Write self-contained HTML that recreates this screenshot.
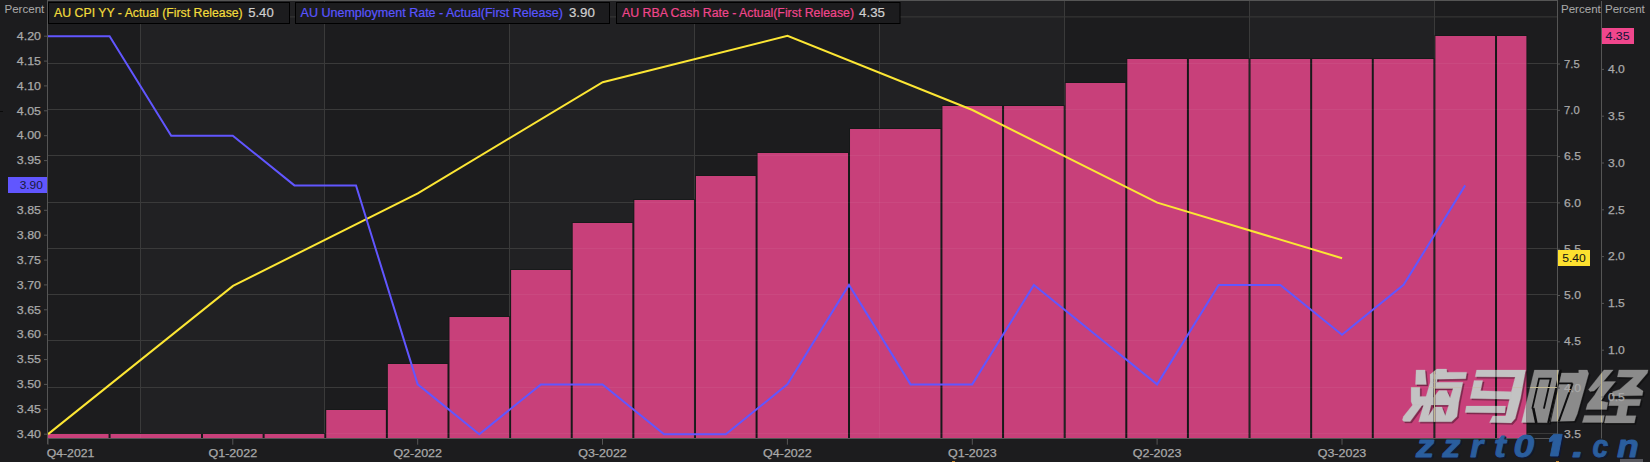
<!DOCTYPE html>
<html><head><meta charset="utf-8"><style>
html,body{margin:0;padding:0;background:#1c1c1e;width:1650px;height:462px;overflow:hidden;}
svg text{font-family:"Liberation Sans", sans-serif;}
</style></head><body>
<svg width="1650" height="462" viewBox="0 0 1650 462" style="position:absolute;left:0;top:0"><rect x="0" y="0" width="1650" height="462" fill="#1c1c1e"/><rect x="141" y="0.5" width="183" height="438.0" fill="#212123"/><rect x="510" y="0.5" width="184" height="438.0" fill="#212123"/><rect x="880" y="0.5" width="184" height="438.0" fill="#212123"/><rect x="1250" y="0.5" width="184" height="438.0" fill="#212123"/><line x1="140.5" y1="0.5" x2="140.5" y2="438.5" stroke="#3a3a3a" stroke-width="1"/><line x1="324.5" y1="0.5" x2="324.5" y2="438.5" stroke="#3a3a3a" stroke-width="1"/><line x1="509.5" y1="0.5" x2="509.5" y2="438.5" stroke="#3a3a3a" stroke-width="1"/><line x1="694.5" y1="0.5" x2="694.5" y2="438.5" stroke="#3a3a3a" stroke-width="1"/><line x1="879.5" y1="0.5" x2="879.5" y2="438.5" stroke="#3a3a3a" stroke-width="1"/><line x1="1064.5" y1="0.5" x2="1064.5" y2="438.5" stroke="#3a3a3a" stroke-width="1"/><line x1="1249.5" y1="0.5" x2="1249.5" y2="438.5" stroke="#3a3a3a" stroke-width="1"/><line x1="1434.5" y1="0.5" x2="1434.5" y2="438.5" stroke="#3a3a3a" stroke-width="1"/><line x1="47.5" y1="16.9" x2="1557.5" y2="16.9" stroke="#3a3a3a" stroke-width="1"/><line x1="47.5" y1="63.5" x2="1557.5" y2="63.5" stroke="#3a3a3a" stroke-width="1"/><line x1="47.5" y1="109.5" x2="1557.5" y2="109.5" stroke="#3a3a3a" stroke-width="1"/><line x1="47.5" y1="155.5" x2="1557.5" y2="155.5" stroke="#3a3a3a" stroke-width="1"/><line x1="47.5" y1="202.5" x2="1557.5" y2="202.5" stroke="#3a3a3a" stroke-width="1"/><line x1="47.5" y1="248.5" x2="1557.5" y2="248.5" stroke="#3a3a3a" stroke-width="1"/><line x1="47.5" y1="294.5" x2="1557.5" y2="294.5" stroke="#3a3a3a" stroke-width="1"/><line x1="47.5" y1="340.5" x2="1557.5" y2="340.5" stroke="#3a3a3a" stroke-width="1"/><line x1="47.5" y1="387.5" x2="1557.5" y2="387.5" stroke="#3a3a3a" stroke-width="1"/><line x1="47.5" y1="433.5" x2="1557.5" y2="433.5" stroke="#3a3a3a" stroke-width="1"/><rect x="47" y="433" width="62.56999999999999" height="5" fill="#141817" fill-opacity="0.7"/><rect x="109.57" y="433" width="92.43" height="5" fill="#141817" fill-opacity="0.7"/><rect x="202.0" y="433" width="61.620000000000005" height="5" fill="#141817" fill-opacity="0.7"/><rect x="263.62" y="433" width="61.620000000000005" height="5" fill="#141817" fill-opacity="0.7"/><rect x="325.24" y="409" width="61.620000000000005" height="29" fill="#141817" fill-opacity="0.7"/><rect x="386.86" y="363" width="61.620000000000005" height="75" fill="#141817" fill-opacity="0.7"/><rect x="448.48" y="316" width="61.620000000000005" height="122" fill="#141817" fill-opacity="0.7"/><rect x="510.1" y="269" width="61.620000000000005" height="169" fill="#141817" fill-opacity="0.7"/><rect x="571.72" y="222" width="61.620000000000005" height="216" fill="#141817" fill-opacity="0.7"/><rect x="633.34" y="199" width="61.620000000000005" height="239" fill="#141817" fill-opacity="0.7"/><rect x="694.96" y="175" width="61.620000000000005" height="263" fill="#141817" fill-opacity="0.7"/><rect x="756.58" y="152" width="92.42999999999995" height="286" fill="#141817" fill-opacity="0.7"/><rect x="849.01" y="128" width="92.43000000000006" height="310" fill="#141817" fill-opacity="0.7"/><rect x="941.44" y="105" width="61.61999999999989" height="333" fill="#141817" fill-opacity="0.7"/><rect x="1003.06" y="105" width="61.62000000000012" height="333" fill="#141817" fill-opacity="0.7"/><rect x="1064.68" y="82" width="61.61999999999989" height="356" fill="#141817" fill-opacity="0.7"/><rect x="1126.3" y="58" width="61.62000000000012" height="380" fill="#141817" fill-opacity="0.7"/><rect x="1187.92" y="58" width="61.61999999999989" height="380" fill="#141817" fill-opacity="0.7"/><rect x="1249.54" y="58" width="61.62000000000012" height="380" fill="#141817" fill-opacity="0.7"/><rect x="1311.16" y="58" width="61.61999999999989" height="380" fill="#141817" fill-opacity="0.7"/><rect x="1372.78" y="58" width="61.62000000000012" height="380" fill="#141817" fill-opacity="0.7"/><rect x="1434.4" y="35" width="61.61999999999989" height="403" fill="#141817" fill-opacity="0.7"/><rect x="1496.02" y="35" width="31.38000000000011" height="403" fill="#141817" fill-opacity="0.7"/><rect x="48" y="434" width="60.56999999999999" height="4" fill="#c8407a"/><rect x="110.57" y="434" width="90.43" height="4" fill="#c8407a"/><rect x="203.0" y="434" width="59.620000000000005" height="4" fill="#c8407a"/><rect x="264.62" y="434" width="59.620000000000005" height="4" fill="#c8407a"/><rect x="326.24" y="410" width="59.620000000000005" height="28" fill="#c8407a"/><rect x="387.86" y="364" width="59.620000000000005" height="74" fill="#c8407a"/><rect x="449.48" y="317" width="59.620000000000005" height="121" fill="#c8407a"/><rect x="511.1" y="270" width="59.620000000000005" height="168" fill="#c8407a"/><rect x="572.72" y="223" width="59.620000000000005" height="215" fill="#c8407a"/><rect x="634.34" y="200" width="59.620000000000005" height="238" fill="#c8407a"/><rect x="695.96" y="176" width="59.620000000000005" height="262" fill="#c8407a"/><rect x="757.58" y="153" width="90.42999999999995" height="285" fill="#c8407a"/><rect x="850.01" y="129" width="90.43000000000006" height="309" fill="#c8407a"/><rect x="942.44" y="106" width="59.61999999999989" height="332" fill="#c8407a"/><rect x="1004.06" y="106" width="59.62000000000012" height="332" fill="#c8407a"/><rect x="1065.68" y="83" width="59.61999999999989" height="355" fill="#c8407a"/><rect x="1127.3" y="59" width="59.62000000000012" height="379" fill="#c8407a"/><rect x="1188.92" y="59" width="59.61999999999989" height="379" fill="#c8407a"/><rect x="1250.54" y="59" width="59.62000000000012" height="379" fill="#c8407a"/><rect x="1312.16" y="59" width="59.61999999999989" height="379" fill="#c8407a"/><rect x="1373.78" y="59" width="59.62000000000012" height="379" fill="#c8407a"/><rect x="1435.4" y="36" width="59.61999999999989" height="402" fill="#c8407a"/><rect x="1497.02" y="36" width="29.38000000000011" height="402" fill="#c8407a"/><defs><clipPath id="allbars"><rect x="48" y="434" width="60.56999999999999" height="4"/><rect x="110.57" y="434" width="90.43" height="4"/><rect x="203.0" y="434" width="59.620000000000005" height="4"/><rect x="264.62" y="434" width="59.620000000000005" height="4"/><rect x="326.24" y="410" width="59.620000000000005" height="28"/><rect x="387.86" y="364" width="59.620000000000005" height="74"/><rect x="449.48" y="317" width="59.620000000000005" height="121"/><rect x="511.1" y="270" width="59.620000000000005" height="168"/><rect x="572.72" y="223" width="59.620000000000005" height="215"/><rect x="634.34" y="200" width="59.620000000000005" height="238"/><rect x="695.96" y="176" width="59.620000000000005" height="262"/><rect x="757.58" y="153" width="90.42999999999995" height="285"/><rect x="850.01" y="129" width="90.43000000000006" height="309"/><rect x="942.44" y="106" width="59.61999999999989" height="332"/><rect x="1004.06" y="106" width="59.62000000000012" height="332"/><rect x="1065.68" y="83" width="59.61999999999989" height="355"/><rect x="1127.3" y="59" width="59.62000000000012" height="379"/><rect x="1188.92" y="59" width="59.61999999999989" height="379"/><rect x="1250.54" y="59" width="59.62000000000012" height="379"/><rect x="1312.16" y="59" width="59.61999999999989" height="379"/><rect x="1373.78" y="59" width="59.62000000000012" height="379"/><rect x="1435.4" y="36" width="59.61999999999989" height="402"/><rect x="1497.02" y="36" width="29.38000000000011" height="402"/></clipPath></defs><g stroke="#ffffff" stroke-opacity="0.05" stroke-width="1" clip-path="url(#allbars)"><line x1="47.5" y1="16.9" x2="1527" y2="16.9"/><line x1="47.5" y1="63.5" x2="1527" y2="63.5"/><line x1="47.5" y1="109.5" x2="1527" y2="109.5"/><line x1="47.5" y1="155.5" x2="1527" y2="155.5"/><line x1="47.5" y1="202.5" x2="1527" y2="202.5"/><line x1="47.5" y1="248.5" x2="1527" y2="248.5"/><line x1="47.5" y1="294.5" x2="1527" y2="294.5"/><line x1="47.5" y1="340.5" x2="1527" y2="340.5"/><line x1="47.5" y1="387.5" x2="1527" y2="387.5"/><line x1="47.5" y1="433.5" x2="1527" y2="433.5"/><line x1="140.5" y1="0.5" x2="140.5" y2="438.5"/><line x1="324.5" y1="0.5" x2="324.5" y2="438.5"/><line x1="509.5" y1="0.5" x2="509.5" y2="438.5"/><line x1="694.5" y1="0.5" x2="694.5" y2="438.5"/><line x1="879.5" y1="0.5" x2="879.5" y2="438.5"/><line x1="1064.5" y1="0.5" x2="1064.5" y2="438.5"/><line x1="1249.5" y1="0.5" x2="1249.5" y2="438.5"/><line x1="1434.5" y1="0.5" x2="1434.5" y2="438.5"/></g><polyline points="48.1,434.1 233.0,285.9 417.8,193.3 602.7,82.2 787.5,35.9 972.4,110.0 1157.3,202.6 1342.1,258.2" fill="none" stroke="#fce634" stroke-width="2" stroke-linejoin="miter"/><polyline points="48.0,36.2 109.6,36.2 171.2,135.7 232.8,135.7 294.4,185.4 356.0,185.4 417.7,384.4 479.3,434.2 540.9,384.4 602.5,384.4 664.1,434.2 725.8,434.2 787.4,384.4 849.0,284.9 910.6,384.4 972.2,384.4 1033.9,284.9 1095.5,334.7 1157.1,384.4 1218.7,284.9 1280.3,284.9 1342.0,334.7 1403.6,284.9 1465.2,185.4" fill="none" stroke="#6156ff" stroke-width="2" stroke-linejoin="miter"/><defs><clipPath id="wmclip"><path d="M1416.1 370.0 L1425.0 370.0 L1426.4 384.5 L1415.5 384.4 Z"/><path d="M1411.1 387.3 L1419.9 387.3 L1419.9 396.4 L1428.5 396.4 L1427.5 405.3 L1412.6 405.3 L1411.1 401.4 Z"/><path d="M1412.6 405.0 L1422.3 405.0 L1410.2 421.6 L1403.8 421.6 L1402.4 419.9 L1403.4 416.5 Z"/><path d="M1430.0 374.5 L1436.9 369.1 L1446.6 369.1 L1447.0 372.2 L1466.7 372.2 L1465.7 378.8 L1436.5 379.2 L1434.0 379.2 Z"/><path d="M1430.0 374.5 L1437.5 374.5 L1436.9 382.3 L1430.2 382.9 Z"/><path d="M1430.2 382.3 L1462.9 382.3 L1458.8 402.3 L1457.0 416.5 L1451.5 421.8 L1418.7 421.8 ZM1433.7 388.5 L1453.1 388.5 L1450.1 398.0 L1446.6 390.6 L1438.9 390.6 L1433.2 398.0 ZM1431.1 404.9 L1448.8 404.9 L1445.3 415.7 L1441.9 407.1 L1434.5 407.1 L1428.5 415.7 Z" fill-rule="evenodd"/><path d="M1476.6 370.1 L1525.6 370.1 L1520.6 398.0 L1515.2 418.6 L1511.3 422.9 L1489.5 422.5 L1492.7 416.1 L1505.6 416.1 L1511.3 391.8 L1515.2 377.1 L1475.2 376.8 Z"/><path d="M1474.1 380.4 L1482.7 380.4 L1480.6 390.7 L1511.5 391.8 L1510.6 399.3 L1470.2 398.6 Z"/><path d="M1466.3 406.1 L1505.6 406.1 L1504.9 412.9 L1465.2 412.5 Z"/><path d="M1534.4 370.1 L1560.5 370.1 L1549.5 422.7 L1521.6 422.5 Z"/><path d="M1561.5 372.9 L1578.7 372.9 L1578.7 370.1 L1587.3 370.1 L1588.7 373.6 L1577.3 414.0 L1574.3 420.9 L1551.0 421.5 Z"/><path d="M1603.9 369.9 L1613.2 369.9 L1600.0 385.5 L1594.0 391.0 L1590.0 391.5 L1588.5 389.5 Z"/><path d="M1602.4 381.6 L1615.6 381.6 L1604.4 395.0 L1601.0 401.0 L1608.0 402.5 L1606.6 409.6 L1585.9 409.6 L1587.5 404.0 L1594.7 395.0 Z"/><path d="M1584.4 415.4 L1604.4 415.4 L1603.0 422.5 L1582.3 422.5 Z"/><path d="M1618.9 369.9 L1648.1 369.9 L1647.5 373.0 L1636.1 386.3 L1643.1 391.0 L1642.3 395.6 L1612.0 396.0 L1612.7 391.7 L1619.7 389.4 L1633.7 377.3 L1617.4 376.9 Z"/><path d="M1610.1 399.3 L1640.9 399.3 L1639.4 405.7 L1608.7 405.7 Z"/><path d="M1618.7 405.0 L1628.0 405.0 L1626.0 416.0 L1616.5 416.0 Z"/><path d="M1605.9 415.7 L1635.9 415.7 L1634.4 422.9 L1604.4 422.9 Z"/></clipPath><clipPath id="barsclip"><rect x="1373.78" y="59" width="59.62000000000012" height="379"/><rect x="1435.4" y="36" width="59.61999999999989" height="402"/><rect x="1497.02" y="36" width="29.38000000000011" height="402"/></clipPath><mask id="nobars"><rect x="0" y="0" width="1650" height="462" fill="#fff"/><rect x="1373.78" y="59" width="59.62000000000012" height="379" fill="#000"/><rect x="1435.4" y="36" width="59.61999999999989" height="402" fill="#000"/><rect x="1497.02" y="36" width="29.38000000000011" height="402" fill="#000"/></mask></defs><g transform="translate(1.5,1.5)" stroke-width="0.3" fill="#000" stroke="#000" fill-opacity="0.35" stroke-opacity="0.35"><path d="M1416.1 370.0 L1425.0 370.0 L1426.4 384.5 L1415.5 384.4 Z"/><path d="M1411.1 387.3 L1419.9 387.3 L1419.9 396.4 L1428.5 396.4 L1427.5 405.3 L1412.6 405.3 L1411.1 401.4 Z"/><path d="M1412.6 405.0 L1422.3 405.0 L1410.2 421.6 L1403.8 421.6 L1402.4 419.9 L1403.4 416.5 Z"/><path d="M1430.0 374.5 L1436.9 369.1 L1446.6 369.1 L1447.0 372.2 L1466.7 372.2 L1465.7 378.8 L1436.5 379.2 L1434.0 379.2 Z"/><path d="M1430.0 374.5 L1437.5 374.5 L1436.9 382.3 L1430.2 382.9 Z"/><path d="M1430.2 382.3 L1462.9 382.3 L1458.8 402.3 L1457.0 416.5 L1451.5 421.8 L1418.7 421.8 ZM1433.7 388.5 L1453.1 388.5 L1450.1 398.0 L1446.6 390.6 L1438.9 390.6 L1433.2 398.0 ZM1431.1 404.9 L1448.8 404.9 L1445.3 415.7 L1441.9 407.1 L1434.5 407.1 L1428.5 415.7 Z" fill-rule="evenodd"/><path d="M1476.6 370.1 L1525.6 370.1 L1520.6 398.0 L1515.2 418.6 L1511.3 422.9 L1489.5 422.5 L1492.7 416.1 L1505.6 416.1 L1511.3 391.8 L1515.2 377.1 L1475.2 376.8 Z"/><path d="M1474.1 380.4 L1482.7 380.4 L1480.6 390.7 L1511.5 391.8 L1510.6 399.3 L1470.2 398.6 Z"/><path d="M1466.3 406.1 L1505.6 406.1 L1504.9 412.9 L1465.2 412.5 Z"/><path d="M1534.4 370.1 L1560.5 370.1 L1549.5 422.7 L1521.6 422.5 Z"/><path d="M1561.5 372.9 L1578.7 372.9 L1578.7 370.1 L1587.3 370.1 L1588.7 373.6 L1577.3 414.0 L1574.3 420.9 L1551.0 421.5 Z"/><path d="M1603.9 369.9 L1613.2 369.9 L1600.0 385.5 L1594.0 391.0 L1590.0 391.5 L1588.5 389.5 Z"/><path d="M1602.4 381.6 L1615.6 381.6 L1604.4 395.0 L1601.0 401.0 L1608.0 402.5 L1606.6 409.6 L1585.9 409.6 L1587.5 404.0 L1594.7 395.0 Z"/><path d="M1584.4 415.4 L1604.4 415.4 L1603.0 422.5 L1582.3 422.5 Z"/><path d="M1618.9 369.9 L1648.1 369.9 L1647.5 373.0 L1636.1 386.3 L1643.1 391.0 L1642.3 395.6 L1612.0 396.0 L1612.7 391.7 L1619.7 389.4 L1633.7 377.3 L1617.4 376.9 Z"/><path d="M1610.1 399.3 L1640.9 399.3 L1639.4 405.7 L1608.7 405.7 Z"/><path d="M1618.7 405.0 L1628.0 405.0 L1626.0 416.0 L1616.5 416.0 Z"/><path d="M1605.9 415.7 L1635.9 415.7 L1634.4 422.9 L1604.4 422.9 Z"/></g><g stroke-width="0.3" fill="#8b8b8b" stroke="#8b8b8b" mask="url(#nobars)"><path d="M1416.1 370.0 L1425.0 370.0 L1426.4 384.5 L1415.5 384.4 Z"/><path d="M1411.1 387.3 L1419.9 387.3 L1419.9 396.4 L1428.5 396.4 L1427.5 405.3 L1412.6 405.3 L1411.1 401.4 Z"/><path d="M1412.6 405.0 L1422.3 405.0 L1410.2 421.6 L1403.8 421.6 L1402.4 419.9 L1403.4 416.5 Z"/><path d="M1430.0 374.5 L1436.9 369.1 L1446.6 369.1 L1447.0 372.2 L1466.7 372.2 L1465.7 378.8 L1436.5 379.2 L1434.0 379.2 Z"/><path d="M1430.0 374.5 L1437.5 374.5 L1436.9 382.3 L1430.2 382.9 Z"/><path d="M1430.2 382.3 L1462.9 382.3 L1458.8 402.3 L1457.0 416.5 L1451.5 421.8 L1418.7 421.8 ZM1433.7 388.5 L1453.1 388.5 L1450.1 398.0 L1446.6 390.6 L1438.9 390.6 L1433.2 398.0 ZM1431.1 404.9 L1448.8 404.9 L1445.3 415.7 L1441.9 407.1 L1434.5 407.1 L1428.5 415.7 Z" fill-rule="evenodd"/><path d="M1476.6 370.1 L1525.6 370.1 L1520.6 398.0 L1515.2 418.6 L1511.3 422.9 L1489.5 422.5 L1492.7 416.1 L1505.6 416.1 L1511.3 391.8 L1515.2 377.1 L1475.2 376.8 Z"/><path d="M1474.1 380.4 L1482.7 380.4 L1480.6 390.7 L1511.5 391.8 L1510.6 399.3 L1470.2 398.6 Z"/><path d="M1466.3 406.1 L1505.6 406.1 L1504.9 412.9 L1465.2 412.5 Z"/><path d="M1534.4 370.1 L1560.5 370.1 L1549.5 422.7 L1521.6 422.5 Z"/><path d="M1561.5 372.9 L1578.7 372.9 L1578.7 370.1 L1587.3 370.1 L1588.7 373.6 L1577.3 414.0 L1574.3 420.9 L1551.0 421.5 Z"/><path d="M1603.9 369.9 L1613.2 369.9 L1600.0 385.5 L1594.0 391.0 L1590.0 391.5 L1588.5 389.5 Z"/><path d="M1602.4 381.6 L1615.6 381.6 L1604.4 395.0 L1601.0 401.0 L1608.0 402.5 L1606.6 409.6 L1585.9 409.6 L1587.5 404.0 L1594.7 395.0 Z"/><path d="M1584.4 415.4 L1604.4 415.4 L1603.0 422.5 L1582.3 422.5 Z"/><path d="M1618.9 369.9 L1648.1 369.9 L1647.5 373.0 L1636.1 386.3 L1643.1 391.0 L1642.3 395.6 L1612.0 396.0 L1612.7 391.7 L1619.7 389.4 L1633.7 377.3 L1617.4 376.9 Z"/><path d="M1610.1 399.3 L1640.9 399.3 L1639.4 405.7 L1608.7 405.7 Z"/><path d="M1618.7 405.0 L1628.0 405.0 L1626.0 416.0 L1616.5 416.0 Z"/><path d="M1605.9 415.7 L1635.9 415.7 L1634.4 422.9 L1604.4 422.9 Z"/></g><g stroke-width="0.3" fill="#c3c3c3" stroke="#c3c3c3" clip-path="url(#barsclip)"><path d="M1416.1 370.0 L1425.0 370.0 L1426.4 384.5 L1415.5 384.4 Z"/><path d="M1411.1 387.3 L1419.9 387.3 L1419.9 396.4 L1428.5 396.4 L1427.5 405.3 L1412.6 405.3 L1411.1 401.4 Z"/><path d="M1412.6 405.0 L1422.3 405.0 L1410.2 421.6 L1403.8 421.6 L1402.4 419.9 L1403.4 416.5 Z"/><path d="M1430.0 374.5 L1436.9 369.1 L1446.6 369.1 L1447.0 372.2 L1466.7 372.2 L1465.7 378.8 L1436.5 379.2 L1434.0 379.2 Z"/><path d="M1430.0 374.5 L1437.5 374.5 L1436.9 382.3 L1430.2 382.9 Z"/><path d="M1430.2 382.3 L1462.9 382.3 L1458.8 402.3 L1457.0 416.5 L1451.5 421.8 L1418.7 421.8 ZM1433.7 388.5 L1453.1 388.5 L1450.1 398.0 L1446.6 390.6 L1438.9 390.6 L1433.2 398.0 ZM1431.1 404.9 L1448.8 404.9 L1445.3 415.7 L1441.9 407.1 L1434.5 407.1 L1428.5 415.7 Z" fill-rule="evenodd"/><path d="M1476.6 370.1 L1525.6 370.1 L1520.6 398.0 L1515.2 418.6 L1511.3 422.9 L1489.5 422.5 L1492.7 416.1 L1505.6 416.1 L1511.3 391.8 L1515.2 377.1 L1475.2 376.8 Z"/><path d="M1474.1 380.4 L1482.7 380.4 L1480.6 390.7 L1511.5 391.8 L1510.6 399.3 L1470.2 398.6 Z"/><path d="M1466.3 406.1 L1505.6 406.1 L1504.9 412.9 L1465.2 412.5 Z"/><path d="M1534.4 370.1 L1560.5 370.1 L1549.5 422.7 L1521.6 422.5 Z"/><path d="M1561.5 372.9 L1578.7 372.9 L1578.7 370.1 L1587.3 370.1 L1588.7 373.6 L1577.3 414.0 L1574.3 420.9 L1551.0 421.5 Z"/><path d="M1603.9 369.9 L1613.2 369.9 L1600.0 385.5 L1594.0 391.0 L1590.0 391.5 L1588.5 389.5 Z"/><path d="M1602.4 381.6 L1615.6 381.6 L1604.4 395.0 L1601.0 401.0 L1608.0 402.5 L1606.6 409.6 L1585.9 409.6 L1587.5 404.0 L1594.7 395.0 Z"/><path d="M1584.4 415.4 L1604.4 415.4 L1603.0 422.5 L1582.3 422.5 Z"/><path d="M1618.9 369.9 L1648.1 369.9 L1647.5 373.0 L1636.1 386.3 L1643.1 391.0 L1642.3 395.6 L1612.0 396.0 L1612.7 391.7 L1619.7 389.4 L1633.7 377.3 L1617.4 376.9 Z"/><path d="M1610.1 399.3 L1640.9 399.3 L1639.4 405.7 L1608.7 405.7 Z"/><path d="M1618.7 405.0 L1628.0 405.0 L1626.0 416.0 L1616.5 416.0 Z"/><path d="M1605.9 415.7 L1635.9 415.7 L1634.4 422.9 L1604.4 422.9 Z"/></g><g fill="none" stroke="#0d0d0e" stroke-linejoin="miter"><polyline stroke-width="2.3" points="1560.6,369.5 1548.3,423.0"/><polyline stroke-width="1.8" points="1532.3,408.6 1539.1,378.6 1550.7,378.6 1543.9,408.6"/><polyline stroke-width="2.6" points="1533.2,408.0 1536.3,423.0"/><polyline stroke-width="1.8" points="1559.0,383.4 1572.5,383.4"/><polyline stroke-width="2.0" points="1572.5,383.4 1558.8,421.5"/></g><line x1="47.5" y1="0" x2="47.5" y2="444" stroke="#555555" stroke-width="1"/><line x1="47.5" y1="438.5" x2="1557.5" y2="438.5" stroke="#555555" stroke-width="1"/><line x1="47.5" y1="0.5" x2="1557.5" y2="0.5" stroke="#555555" stroke-width="1"/><line x1="1557.5" y1="0" x2="1557.5" y2="438.5" stroke="#555555" stroke-width="1"/><line x1="1601.5" y1="1" x2="1601.5" y2="438.5" stroke="#555555" stroke-width="1"/><g clip-path="url(#wmclip)" stroke="#c2b992" stroke-width="1"><line x1="1434.5" y1="360" x2="1434.5" y2="430"/><line x1="1557.5" y1="360" x2="1557.5" y2="430"/><line x1="1601.5" y1="360" x2="1601.5" y2="430"/><line x1="1526" y1="387.5" x2="1557.5" y2="387.5"/><line x1="1390" y1="387.5" x2="1526" y2="387.5" stroke-opacity="0.35"/></g><rect x="952" y="461" width="3" height="1" fill="#c8862c"/><rect x="1556" y="461" width="3" height="1" fill="#c8862c"/><line x1="44" y1="36.2" x2="47.5" y2="36.2" stroke="#555555" stroke-width="1"/><text x="16.8" y="39.9" font-size="11.2" fill="#a9a9a9" stroke="#a9a9a9" stroke-width="0.25" textLength="24.2" lengthAdjust="spacingAndGlyphs">4.20</text><line x1="44" y1="61.1" x2="47.5" y2="61.1" stroke="#555555" stroke-width="1"/><text x="16.8" y="64.8" font-size="11.2" fill="#a9a9a9" stroke="#a9a9a9" stroke-width="0.25" textLength="24.2" lengthAdjust="spacingAndGlyphs">4.15</text><line x1="44" y1="85.9" x2="47.5" y2="85.9" stroke="#555555" stroke-width="1"/><text x="16.8" y="89.6" font-size="11.2" fill="#a9a9a9" stroke="#a9a9a9" stroke-width="0.25" textLength="24.2" lengthAdjust="spacingAndGlyphs">4.10</text><line x1="44" y1="110.8" x2="47.5" y2="110.8" stroke="#555555" stroke-width="1"/><text x="16.8" y="114.5" font-size="11.2" fill="#a9a9a9" stroke="#a9a9a9" stroke-width="0.25" textLength="24.2" lengthAdjust="spacingAndGlyphs">4.05</text><line x1="44" y1="135.7" x2="47.5" y2="135.7" stroke="#555555" stroke-width="1"/><text x="16.8" y="139.4" font-size="11.2" fill="#a9a9a9" stroke="#a9a9a9" stroke-width="0.25" textLength="24.2" lengthAdjust="spacingAndGlyphs">4.00</text><line x1="44" y1="160.6" x2="47.5" y2="160.6" stroke="#555555" stroke-width="1"/><text x="16.8" y="164.3" font-size="11.2" fill="#a9a9a9" stroke="#a9a9a9" stroke-width="0.25" textLength="24.2" lengthAdjust="spacingAndGlyphs">3.95</text><line x1="44" y1="185.4" x2="47.5" y2="185.4" stroke="#555555" stroke-width="1"/><text x="16.8" y="189.1" font-size="11.2" fill="#a9a9a9" stroke="#a9a9a9" stroke-width="0.25" textLength="24.2" lengthAdjust="spacingAndGlyphs">3.90</text><line x1="44" y1="210.3" x2="47.5" y2="210.3" stroke="#555555" stroke-width="1"/><text x="16.8" y="214.0" font-size="11.2" fill="#a9a9a9" stroke="#a9a9a9" stroke-width="0.25" textLength="24.2" lengthAdjust="spacingAndGlyphs">3.85</text><line x1="44" y1="235.2" x2="47.5" y2="235.2" stroke="#555555" stroke-width="1"/><text x="16.8" y="238.9" font-size="11.2" fill="#a9a9a9" stroke="#a9a9a9" stroke-width="0.25" textLength="24.2" lengthAdjust="spacingAndGlyphs">3.80</text><line x1="44" y1="260.1" x2="47.5" y2="260.1" stroke="#555555" stroke-width="1"/><text x="16.8" y="263.8" font-size="11.2" fill="#a9a9a9" stroke="#a9a9a9" stroke-width="0.25" textLength="24.2" lengthAdjust="spacingAndGlyphs">3.75</text><line x1="44" y1="284.9" x2="47.5" y2="284.9" stroke="#555555" stroke-width="1"/><text x="16.8" y="288.6" font-size="11.2" fill="#a9a9a9" stroke="#a9a9a9" stroke-width="0.25" textLength="24.2" lengthAdjust="spacingAndGlyphs">3.70</text><line x1="44" y1="309.8" x2="47.5" y2="309.8" stroke="#555555" stroke-width="1"/><text x="16.8" y="313.5" font-size="11.2" fill="#a9a9a9" stroke="#a9a9a9" stroke-width="0.25" textLength="24.2" lengthAdjust="spacingAndGlyphs">3.65</text><line x1="44" y1="334.7" x2="47.5" y2="334.7" stroke="#555555" stroke-width="1"/><text x="16.8" y="338.4" font-size="11.2" fill="#a9a9a9" stroke="#a9a9a9" stroke-width="0.25" textLength="24.2" lengthAdjust="spacingAndGlyphs">3.60</text><line x1="44" y1="359.6" x2="47.5" y2="359.6" stroke="#555555" stroke-width="1"/><text x="16.8" y="363.3" font-size="11.2" fill="#a9a9a9" stroke="#a9a9a9" stroke-width="0.25" textLength="24.2" lengthAdjust="spacingAndGlyphs">3.55</text><line x1="44" y1="384.4" x2="47.5" y2="384.4" stroke="#555555" stroke-width="1"/><text x="16.8" y="388.1" font-size="11.2" fill="#a9a9a9" stroke="#a9a9a9" stroke-width="0.25" textLength="24.2" lengthAdjust="spacingAndGlyphs">3.50</text><line x1="44" y1="409.3" x2="47.5" y2="409.3" stroke="#555555" stroke-width="1"/><text x="16.8" y="413.0" font-size="11.2" fill="#a9a9a9" stroke="#a9a9a9" stroke-width="0.25" textLength="24.2" lengthAdjust="spacingAndGlyphs">3.45</text><line x1="44" y1="434.2" x2="47.5" y2="434.2" stroke="#555555" stroke-width="1"/><text x="16.8" y="437.9" font-size="11.2" fill="#a9a9a9" stroke="#a9a9a9" stroke-width="0.25" textLength="24.2" lengthAdjust="spacingAndGlyphs">3.40</text><line x1="1557.5" y1="64.0" x2="1560" y2="64.0" stroke="#555555" stroke-width="1"/><text x="1564.1" y="67.6" font-size="11.2" fill="#a9a9a9" stroke="#a9a9a9" stroke-width="0.25" textLength="15.6" lengthAdjust="spacingAndGlyphs">7.5</text><line x1="1557.5" y1="110.3" x2="1560" y2="110.3" stroke="#555555" stroke-width="1"/><text x="1564.1" y="113.9" font-size="11.2" fill="#a9a9a9" stroke="#a9a9a9" stroke-width="0.25" textLength="15.6" lengthAdjust="spacingAndGlyphs">7.0</text><line x1="1557.5" y1="156.6" x2="1560" y2="156.6" stroke="#555555" stroke-width="1"/><text x="1564.1" y="160.2" font-size="11.2" fill="#a9a9a9" stroke="#a9a9a9" stroke-width="0.25" textLength="16.9" lengthAdjust="spacingAndGlyphs">6.5</text><line x1="1557.5" y1="202.9" x2="1560" y2="202.9" stroke="#555555" stroke-width="1"/><text x="1564.1" y="206.5" font-size="11.2" fill="#a9a9a9" stroke="#a9a9a9" stroke-width="0.25" textLength="16.9" lengthAdjust="spacingAndGlyphs">6.0</text><line x1="1557.5" y1="249.2" x2="1560" y2="249.2" stroke="#555555" stroke-width="1"/><text x="1564.1" y="252.8" font-size="11.2" fill="#a9a9a9" stroke="#a9a9a9" stroke-width="0.25" textLength="16.9" lengthAdjust="spacingAndGlyphs">5.5</text><line x1="1557.5" y1="295.5" x2="1560" y2="295.5" stroke="#555555" stroke-width="1"/><text x="1564.1" y="299.1" font-size="11.2" fill="#a9a9a9" stroke="#a9a9a9" stroke-width="0.25" textLength="16.9" lengthAdjust="spacingAndGlyphs">5.0</text><line x1="1557.5" y1="341.8" x2="1560" y2="341.8" stroke="#555555" stroke-width="1"/><text x="1564.1" y="345.4" font-size="11.2" fill="#a9a9a9" stroke="#a9a9a9" stroke-width="0.25" textLength="16.9" lengthAdjust="spacingAndGlyphs">4.5</text><line x1="1557.5" y1="388.1" x2="1560" y2="388.1" stroke="#555555" stroke-width="1"/><text x="1564.1" y="391.7" font-size="11.2" fill="#a9a9a9" stroke="#a9a9a9" stroke-width="0.25" textLength="16.9" lengthAdjust="spacingAndGlyphs">4.0</text><line x1="1557.5" y1="434.4" x2="1560" y2="434.4" stroke="#555555" stroke-width="1"/><text x="1564.1" y="438.0" font-size="11.2" fill="#a9a9a9" stroke="#a9a9a9" stroke-width="0.25" textLength="16.9" lengthAdjust="spacingAndGlyphs">3.5</text><line x1="1601.5" y1="69.4" x2="1604" y2="69.4" stroke="#555555" stroke-width="1"/><text x="1607.9" y="73.2" font-size="11.2" fill="#a9a9a9" stroke="#a9a9a9" stroke-width="0.25" textLength="16.9" lengthAdjust="spacingAndGlyphs">4.0</text><line x1="1601.5" y1="116.2" x2="1604" y2="116.2" stroke="#555555" stroke-width="1"/><text x="1607.9" y="120.0" font-size="11.2" fill="#a9a9a9" stroke="#a9a9a9" stroke-width="0.25" textLength="16.9" lengthAdjust="spacingAndGlyphs">3.5</text><line x1="1601.5" y1="163.0" x2="1604" y2="163.0" stroke="#555555" stroke-width="1"/><text x="1607.9" y="166.8" font-size="11.2" fill="#a9a9a9" stroke="#a9a9a9" stroke-width="0.25" textLength="16.9" lengthAdjust="spacingAndGlyphs">3.0</text><line x1="1601.5" y1="209.8" x2="1604" y2="209.8" stroke="#555555" stroke-width="1"/><text x="1607.9" y="213.6" font-size="11.2" fill="#a9a9a9" stroke="#a9a9a9" stroke-width="0.25" textLength="16.9" lengthAdjust="spacingAndGlyphs">2.5</text><line x1="1601.5" y1="256.6" x2="1604" y2="256.6" stroke="#555555" stroke-width="1"/><text x="1607.9" y="260.4" font-size="11.2" fill="#a9a9a9" stroke="#a9a9a9" stroke-width="0.25" textLength="16.9" lengthAdjust="spacingAndGlyphs">2.0</text><line x1="1601.5" y1="303.4" x2="1604" y2="303.4" stroke="#555555" stroke-width="1"/><text x="1607.9" y="307.2" font-size="11.2" fill="#a9a9a9" stroke="#a9a9a9" stroke-width="0.25" textLength="16.9" lengthAdjust="spacingAndGlyphs">1.5</text><line x1="1601.5" y1="350.2" x2="1604" y2="350.2" stroke="#555555" stroke-width="1"/><text x="1607.9" y="354.0" font-size="11.2" fill="#a9a9a9" stroke="#a9a9a9" stroke-width="0.25" textLength="16.9" lengthAdjust="spacingAndGlyphs">1.0</text><line x1="1601.5" y1="397.0" x2="1604" y2="397.0" stroke="#555555" stroke-width="1"/><text x="1607.9" y="400.8" font-size="11.2" fill="#a9a9a9" stroke="#a9a9a9" stroke-width="0.25" textLength="16.9" lengthAdjust="spacingAndGlyphs">0.5</text><text x="4.5" y="13.3" font-size="11.6" fill="#a9a9a9" stroke="#a9a9a9" stroke-width="0.05" textLength="39.8" lengthAdjust="spacingAndGlyphs">Percent</text><text x="1561.0" y="13.3" font-size="11.6" fill="#a9a9a9" stroke="#a9a9a9" stroke-width="0.05" textLength="39.8" lengthAdjust="spacingAndGlyphs">Percent</text><text x="1605.0" y="13.3" font-size="11.6" fill="#a9a9a9" stroke="#a9a9a9" stroke-width="0.05" textLength="39.8" lengthAdjust="spacingAndGlyphs">Percent</text><line x1="48.0" y1="438.5" x2="48.0" y2="444.7" stroke="#555555" stroke-width="1"/><text x="46.7" y="457.1" font-size="11.4" fill="#a9a9a9" stroke="#a9a9a9" stroke-width="0.25" textLength="47.6" lengthAdjust="spacingAndGlyphs">Q4-2021</text><line x1="232.8" y1="438.5" x2="232.8" y2="444.7" stroke="#555555" stroke-width="1"/><text x="208.5" y="457.1" font-size="11.4" fill="#a9a9a9" stroke="#a9a9a9" stroke-width="0.25" textLength="48.6" lengthAdjust="spacingAndGlyphs">Q1-2022</text><line x1="417.7" y1="438.5" x2="417.7" y2="444.7" stroke="#555555" stroke-width="1"/><text x="393.4" y="457.1" font-size="11.4" fill="#a9a9a9" stroke="#a9a9a9" stroke-width="0.25" textLength="48.6" lengthAdjust="spacingAndGlyphs">Q2-2022</text><line x1="602.5" y1="438.5" x2="602.5" y2="444.7" stroke="#555555" stroke-width="1"/><text x="578.2" y="457.1" font-size="11.4" fill="#a9a9a9" stroke="#a9a9a9" stroke-width="0.25" textLength="48.6" lengthAdjust="spacingAndGlyphs">Q3-2022</text><line x1="787.4" y1="438.5" x2="787.4" y2="444.7" stroke="#555555" stroke-width="1"/><text x="763.1" y="457.1" font-size="11.4" fill="#a9a9a9" stroke="#a9a9a9" stroke-width="0.25" textLength="48.6" lengthAdjust="spacingAndGlyphs">Q4-2022</text><line x1="972.3" y1="438.5" x2="972.3" y2="444.7" stroke="#555555" stroke-width="1"/><text x="948.0" y="457.1" font-size="11.4" fill="#a9a9a9" stroke="#a9a9a9" stroke-width="0.25" textLength="48.6" lengthAdjust="spacingAndGlyphs">Q1-2023</text><line x1="1157.1" y1="438.5" x2="1157.1" y2="444.7" stroke="#555555" stroke-width="1"/><text x="1132.8" y="457.1" font-size="11.4" fill="#a9a9a9" stroke="#a9a9a9" stroke-width="0.25" textLength="48.6" lengthAdjust="spacingAndGlyphs">Q2-2023</text><line x1="1342.0" y1="438.5" x2="1342.0" y2="444.7" stroke="#555555" stroke-width="1"/><text x="1317.7" y="457.1" font-size="11.4" fill="#a9a9a9" stroke="#a9a9a9" stroke-width="0.25" textLength="48.6" lengthAdjust="spacingAndGlyphs">Q3-2023</text><rect x="8" y="177" width="39" height="16" fill="#6156ff"/><text x="19.7" y="188.9" font-size="11.2" fill="#1a1a3c" stroke="#1a1a3c" stroke-width="0.05" textLength="23.2" lengthAdjust="spacingAndGlyphs">3.90</text><rect x="1558" y="250" width="32" height="16" fill="#fde02f"/><text x="1562.2" y="261.9" font-size="11.2" fill="#141414" stroke="#141414" stroke-width="0.05" textLength="23.6" lengthAdjust="spacingAndGlyphs">5.40</text><rect x="1602" y="28" width="32" height="16" fill="#f0468c"/><text x="1605.6" y="39.9" font-size="11.2" fill="#14143a" stroke="#14143a" stroke-width="0.05" textLength="24.0" lengthAdjust="spacingAndGlyphs">4.35</text><rect x="48.5" y="2.5" width="241.0" height="21" fill="#1c1c1e" stroke="#000" stroke-width="1"/><text x="54.1" y="16.9" font-size="12.3" fill="#f2dc3c" stroke="#f2dc3c" stroke-width="0.2" textLength="188.6" lengthAdjust="spacingAndGlyphs">AU CPI YY - Actual (First Release)</text><text x="248.2" y="16.9" font-size="12.3" fill="#cfcfcf" stroke="#cfcfcf" stroke-width="0.2" textLength="25.5" lengthAdjust="spacingAndGlyphs">5.40</text><rect x="295.5" y="2.5" width="314.0" height="21" fill="#1c1c1e" stroke="#000" stroke-width="1"/><text x="300.6" y="16.9" font-size="12.3" fill="#5a55ff" stroke="#5a55ff" stroke-width="0.2" textLength="262.3" lengthAdjust="spacingAndGlyphs">AU Unemployment Rate - Actual(First Release)</text><text x="568.9" y="16.9" font-size="12.3" fill="#cfcfcf" stroke="#cfcfcf" stroke-width="0.2" textLength="25.9" lengthAdjust="spacingAndGlyphs">3.90</text><rect x="616.5" y="2.5" width="283.5" height="21" fill="#1c1c1e" stroke="#000" stroke-width="1"/><text x="622.0" y="16.9" font-size="12.3" fill="#f0468c" stroke="#f0468c" stroke-width="0.2" textLength="232.0" lengthAdjust="spacingAndGlyphs">AU RBA Cash Rate - Actual(First Release)</text><text x="859.1" y="16.9" font-size="12.3" fill="#cfcfcf" stroke="#cfcfcf" stroke-width="0.2" textLength="25.8" lengthAdjust="spacingAndGlyphs">4.35</text><g fill="#0f1838" stroke="#0f1838" stroke-width="0.9" stroke-linejoin="round" font-size="31.5" font-weight="bold" font-style="italic"><text transform="matrix(1.160 0 0 1 1417.24 457.8)" x="0" y="0">z</text><text transform="matrix(1.141 0 0 1 1443.73 457.8)" x="0" y="0">z</text><text transform="matrix(1.049 0 0 1 1471.67 457.8)" x="0" y="0">r</text><text transform="matrix(1.132 0 0 1 1495.33 457.8)" x="0" y="0">t</text><text transform="matrix(1.176 0 0 1 1514.69 457.8)" x="0" y="0">0</text><polygon points="1554.8,435.6 1563.5,435.6 1559.3,457.3 1551.6,457.3 1554.6,442.1 1550.6,443.1 1551.1,439.5"/><text transform="matrix(1.363 0 0 1 1573.37 457.8)" x="0" y="0">.</text><text transform="matrix(0.889 0 0 1 1593.88 457.8)" x="0" y="0">c</text><text transform="matrix(1.128 0 0 1 1618.33 457.8)" x="0" y="0">n</text></g><g fill="#2a5e9e" stroke="#2a5e9e" stroke-width="0.9" stroke-linejoin="round" font-size="31.5" font-weight="bold" font-style="italic"><text transform="matrix(1.160 0 0 1 1415.94 456.5)" x="0" y="0">z</text><text transform="matrix(1.141 0 0 1 1442.43 456.5)" x="0" y="0">z</text><text transform="matrix(1.049 0 0 1 1470.37 456.5)" x="0" y="0">r</text><text transform="matrix(1.132 0 0 1 1494.03 456.5)" x="0" y="0">t</text><text transform="matrix(1.176 0 0 1 1513.39 456.5)" x="0" y="0">0</text><polygon points="1553.5,434.3 1562.2,434.3 1558.0,456.0 1550.3,456.0 1553.3,440.8 1549.3,441.8 1549.8,438.2"/><text transform="matrix(1.363 0 0 1 1572.07 456.5)" x="0" y="0">.</text><text transform="matrix(0.889 0 0 1 1592.58 456.5)" x="0" y="0">c</text><text transform="matrix(1.128 0 0 1 1617.03 456.5)" x="0" y="0">n</text></g><rect x="1620" y="459" width="23" height="3" fill="#56565c"/><rect x="0" y="111" width="3" height="1" fill="#0a0a0a"/></svg>
</body></html>
